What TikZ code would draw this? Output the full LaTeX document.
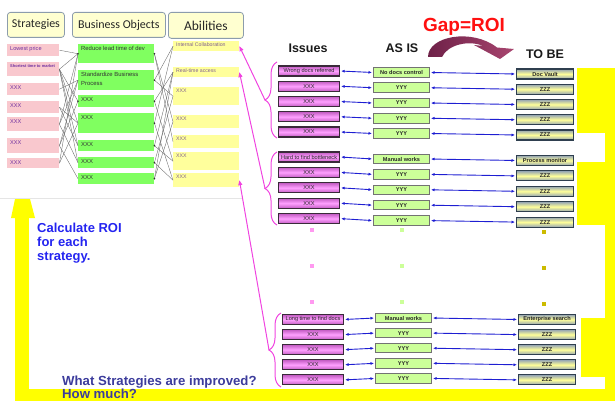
\documentclass[tikz,border=0pt]{standalone}
\usepackage{fontspec}
\setmainfont{Liberation Sans}
\newfontfamily\headfont{Carlito}
\usetikzlibrary{arrows.meta,decorations.pathreplacing,calc}

\definecolor{stratfill}{HTML}{F9C8CE}
\definecolor{bofill}{HTML}{80FF60}
\definecolor{abfill}{HTML}{FFFF9C}
\definecolor{headfill}{HTML}{FFFFD0}
\definecolor{headline}{HTML}{8C9CAC}
\definecolor{purp}{HTML}{7030A0}
\definecolor{abtext}{HTML}{806090}
\definecolor{issuemid}{HTML}{FFA0FF}
\definecolor{issueedge}{HTML}{C25CC2}
\definecolor{issueline}{HTML}{3A2A3A}
\definecolor{asisfill}{HTML}{CCFF99}
\definecolor{tobeedge}{HTML}{94A4B4}
\definecolor{tobemid}{HTML}{FFFF99}
\definecolor{tobeline}{HTML}{2F3F4F}
\definecolor{arrowblue}{HTML}{1E1ED2}
\definecolor{bracecol}{HTML}{F044E0}
\definecolor{calcblue}{HTML}{2424F0}
\definecolor{askblue}{HTML}{3C3C9C}
\definecolor{gapred}{HTML}{FF1010}
\definecolor{hilite}{HTML}{FFFF00}
\definecolor{dotpink}{HTML}{FF99F0}
\definecolor{dotgreen}{HTML}{CCFF99}
\definecolor{dotolive}{HTML}{CCBB00}
\definecolor{arcdark}{HTML}{6E2148}
\definecolor{arclight}{HTML}{A8456F}

% top-aligned text inside a box of fixed size
\newcommand\boxtxt[3]{\parbox[t][#2][t]{#1}{#3}}

\begin{document}
\begin{tikzpicture}[x=1pt,y=-1pt,
  header/.style={draw=headline, line width=0.8pt, fill=headfill, rounded corners=3pt,
    inner sep=0pt, anchor=north west, text=black!85},
  strat/.style={fill=stratfill, inner xsep=3pt, inner ysep=2pt, anchor=north west,
    text=purp, font=\fontsize{5.6}{6.5}\selectfont},
  bo/.style={fill=bofill, inner xsep=3pt, inner ysep=2.5pt, anchor=north west,
    text=black!80, font=\fontsize{5.9}{8.5}\selectfont},
  ab/.style={fill=abfill, inner xsep=3pt, inner ysep=2pt, anchor=north west,
    text=abtext, font=\fontsize{5.2}{6}\selectfont},
  link/.style={draw=black!60, line width=0.35pt},
  issue/.style={draw=issueline, line width=1.1pt, top color=issueedge, bottom color=issueedge,
    middle color=issuemid, minimum width=61pt, minimum height=10pt, inner sep=0pt,
    anchor=west, font=\fontsize{5.6}{6}\selectfont, text=black!85},
  asis/.style={draw=black!55, line width=1pt, fill=asisfill, minimum width=56pt,
    minimum height=9.5pt, inner sep=0pt, anchor=west,
    font=\fontsize{5.6}{6}\selectfont\bfseries, text=black!85},
  tobe/.style={draw=tobeline, line width=1.1pt, top color=tobeedge, bottom color=tobeedge,
    middle color=tobemid, minimum width=57pt, minimum height=10pt, inner sep=0pt,
    anchor=west, font=\fontsize{5.6}{6}\selectfont\bfseries, text=black!85},
  biarrow/.style={draw=arrowblue, line width=0.9pt,
    {Latex[length=3.5pt,width=3pt]}-{Latex[length=3.5pt,width=3pt]},
    shorten <=1pt, shorten >=1pt},
  bracestyle/.style={draw=bracecol, line width=1pt, decorate,
    decoration={brace, amplitude=12pt}},
  magline/.style={draw=bracecol, line width=1pt, -{Triangle[length=5pt,width=4pt]}},
  colhead/.style={font=\bfseries\fontsize{12.5}{14}\selectfont, text=black!90, inner sep=0pt, anchor=base},
]
\useasboundingbox (0,0) rectangle (615,401);

% yellow feedback arrow and highlight bars
\fill[hilite] (605,68) rectangle (615,401);
\fill[hilite] (577,68) rectangle (605,133);
\fill[hilite] (577,162) rectangle (605,225);
\fill[hilite] (581,318) rectangle (605,377);
\fill[hilite] (15,389) rectangle (615,401);
\fill[hilite] (15,218) rectangle (29,401);
\fill[hilite] (15,199) -- (30,199) -- (35,218) -- (11,218) -- cycle;

% frame edge of the left panel
\draw[black!10, line width=0.5pt] (0,198.5) -- (243,198.5);

% column headers
\node[header, minimum width=57pt, minimum height=25pt, font=\headfont\fontsize{12}{14}\selectfont] (hs) at (7,12) {Strategies};
\node[header, minimum width=93pt, minimum height=25pt, font=\headfont\fontsize{12}{14}\selectfont] (hb) at (72,12) {Business Objects};
\node[header, minimum width=75pt, minimum height=26pt, font=\headfont\fontsize{13.5}{15}\selectfont] (ha) at (168,12) {Abilities};

% strategies
\node[strat] (s1) at (7,44)  {\boxtxt{46pt}{8pt}{Lowest price}};
\node[strat] (s2) at (7,62)  {\boxtxt{46pt}{10pt}{\fontsize{4}{5}\selectfont\bfseries Shortest time to market}};
\node[strat] (s3) at (7,83)  {\boxtxt{46pt}{8pt}{XXX}};
\node[strat] (s4) at (7,101) {\boxtxt{46pt}{8pt}{XXX}};
\node[strat] (s5) at (7,117) {\boxtxt{46pt}{10pt}{XXX}};
\node[strat] (s6) at (7,138) {\boxtxt{46pt}{11pt}{XXX}};
\node[strat] (s7) at (7,158) {\boxtxt{46pt}{6pt}{XXX}};

% business objects
\node[bo] (b1) at (78,44)  {\boxtxt{70pt}{14pt}{Reduce lead time of dev}};
\node[bo] (b2) at (78,70)  {\boxtxt{70pt}{15pt}{Standardize Business\\Process}};
\node[bo] (b3) at (78,95)  {\boxtxt{70pt}{7pt}{XXX}};
\node[bo] (b4) at (78,113) {\boxtxt{70pt}{15pt}{XXX}};
\node[bo] (b5) at (78,140) {\boxtxt{70pt}{6pt}{XXX}};
\node[bo] (b6) at (78,157) {\boxtxt{70pt}{6pt}{XXX}};
\node[bo] (b7) at (78,173) {\boxtxt{70pt}{6pt}{XXX}};

% abilities
\node[ab] (a1) at (173,41)  {\boxtxt{60pt}{6pt}{Internal Collaboration}};
\node[ab] (a2) at (173,67)  {\boxtxt{60pt}{6pt}{Real-time access}};
\node[ab] (a3) at (173,87)  {\boxtxt{60pt}{14pt}{XXX}};
\node[ab] (a4) at (173,115) {\boxtxt{60pt}{9pt}{XXX}};
\node[ab] (a5) at (173,135) {\boxtxt{60pt}{9pt}{XXX}};
\node[ab] (a6) at (173,152) {\boxtxt{60pt}{14pt}{XXX}};
\node[ab] (a7) at (173,173) {\boxtxt{60pt}{10pt}{XXX}};

% strategy -> business object links
\foreach \p/\q in {s1/b1, s2/b1, s2/b3, s2/b4, s2/b5, s2/b6, s3/b2, s4/b4, s4/b5,
                   s5/b1, s5/b2, s5/b6, s6/b2, s6/b3, s6/b7, s7/b1, s7/b4}
  \draw[link] (\p.east) -- (\q.west);
% business object -> ability links
\foreach \p/\q in {b1/a4, b1/a5, b2/a1, b2/a3, b3/a2, b3/a6, b4/a1, b4/a7,
                   b5/a2, b5/a6, b6/a3, b6/a7, b7/a2, b7/a4}
  \draw[link] (\p.east) -- (\q.west);
\foreach \p in {b1,b2,b3,b4,b5,b6,b7}
  \fill[black!80] (\p.east) circle (0.9);
\fill[black!80] (b1.west) circle (0.9);
\fill[black!80] (b3.west) circle (0.9);

% gap arrow
\shade[left color=arcdark, right color=arclight]
  (428,57) .. controls (428,36) and (472,28) .. (497,47.5)
  -- (514,49) -- (500,59) -- (474,45) -- (483,46)
  .. controls (470,40) and (448,44) .. (442,57) -- cycle;
\node[font=\bfseries\fontsize{19}{22}\selectfont, text=gapred, inner sep=0pt, anchor=base] (gap) at (464,32) {Gap=ROI};

% table headings
\node[colhead] (hissues) at (308,53) {Issues};
\node[colhead] (hasis) at (402,53) {AS IS};
\node[colhead] (htobe) at (545,58.5) {TO BE};

% issue / as-is / to-be tables
\foreach \g/\ix/\ax/\tx/\y/\st/\ady/\tdy/\il/\al/\tl in {
   1/278/373/516/71/15.25/1.5/3/{Wrong docs referred}/{No docs control}/{Doc Vault},
   2/278/373/516/157/15.4/2/3.5/{Hard to find bottleneck}/{Manual works}/{Process monitor},
   3/282/375/518/319.5/15.1/-1.5/0/{Long time to find docs}/{Manual works}/{Enterprise search}}{
  \foreach \r in {0,...,4}{
    \pgfmathsetmacro\yy{\y+\st*\r}
    \ifnum\r=0 \def\txi{\il}\def\txa{\al}\def\txb{\tl}\else\def\txi{XXX}\def\txa{YYY}\def\txb{ZZZ}\fi
    \node[issue] (g\g i\r) at (\ix,\yy) {\txi};
    \node[asis] (g\g a\r) at ({\ax},{\yy+\ady}) {\txa};
    \node[tobe] (g\g t\r) at ({\tx},{\yy+\tdy}) {\txb};
    \draw[biarrow] (g\g i\r.east) -- (g\g a\r.west);
    \draw[biarrow] (g\g a\r.east) -- (g\g t\r.west);
  }
}

% elision marks between the second and third table
\foreach \yy in {230,266,302}{
  \fill[dotpink] (310,\yy-2) rectangle +(4,4);
  \fill[dotgreen] (400,\yy-2) rectangle +(4,4);
  \fill[dotolive] (542,\yy) rectangle +(4,4);
}

% braces grouping the issues and their links to abilities
\draw[bracestyle] (277,138) -- (277,62);
\draw[bracestyle] (277,225) -- (277,152);
\draw[bracestyle] (281,387) -- (281,313);
\coordinate (tip1) at (265,100);
\coordinate (tip2) at (265,188.5);
\coordinate (tip3) at (269,350);
\draw[magline] (tip1) -- (a1.east);
\draw[magline] (tip2) -- (a2.east);
\draw[magline] (tip3) -- (a7.east);

% captions
\node[anchor=north west, inner sep=0pt, align=left, text=calcblue,
      font=\bfseries\fontsize{13}{14}\selectfont] (calc) at (37,222.5)
  {Calculate ROI\\for each\\strategy.};
\node[anchor=north west, inner sep=0pt, align=left, text=askblue,
      font=\bfseries\fontsize{13.2}{13}\selectfont] (ask) at (62,375.5)
  {What Strategies are improved?\\How much?};
\end{tikzpicture}
\end{document}
